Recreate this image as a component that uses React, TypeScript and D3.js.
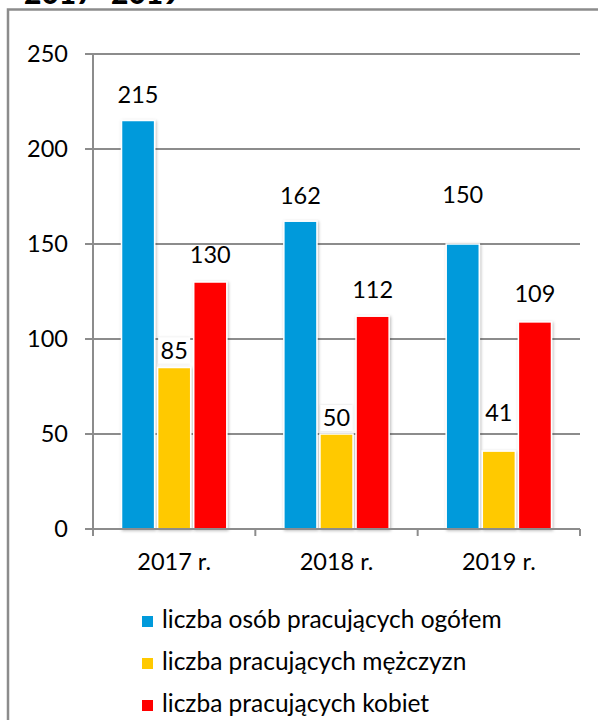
import React from "react";
import * as d3 from "d3";

const categories = ["2017 r.", "2018 r.", "2019 r."];
const seriesNames = [
  "liczba osób pracujących ogółem",
  "liczba pracujących mężczyzn",
  "liczba pracujących kobiet",
];
const totalValues = [215, 162, 150];
const menValues = [85, 50, 41];
const womenValues = [130, 112, 109];
const yTicks = [0, 50, 100, 150, 200, 250];
const titleText = "2017–2019";

// label gaps (px between bar top and label baseline), styling only
const labelGaps = [
  [18, 17, 41],
  [9, 8, 30],
  [19, 18, 20],
];

const colors = ["#009ADB", "#FFC900", "#FF0000"];
const FONT = "Lato, 'Open Sans', sans-serif";
const GRAY = "#8c8c8c";

export default function App() {
  const W = 598;
  const H = 720;
  const left = 93;
  const right = 580;
  const top = 54;
  const bottom = 529;

  const series = [totalValues, menValues, womenValues];

  const x = d3.scaleBand<string>().domain(categories).range([left, right]).padding(0);
  const xi = d3
    .scaleBand<number>()
    .domain([0, 1, 2])
    .range([0, x.bandwidth()])
    .paddingInner(0.0833)
    .paddingOuter(0.79);
  const y = d3.scaleLinear().domain([0, 250]).range([bottom, top]);

  const catEdges = categories.map((c) => x(c) as number).concat([right]);

  return (
    <svg
      width={W}
      height={H}
      style={{ position: "absolute", left: 0, top: 0, background: "#fff" }}
      fontFamily={FONT}
    >
      <defs>
        <filter id="sh" x="-30%" y="-10%" width="160%" height="120%">
          <feDropShadow dx="1" dy="1" stdDeviation="1.8" floodColor="#000" floodOpacity="0.28" />
        </filter>
        <filter id="lsh" x="-30%" y="-30%" width="160%" height="160%">
          <feDropShadow dx="0" dy="0" stdDeviation="1.2" floodColor="#000" floodOpacity="0.15" />
        </filter>
      </defs>
      <rect x={0} y={0} width={W} height={H} fill="#fff" />
      {/* title (cut off at top, as in the reference) */}
      <text x={24} y={3.5} fontSize={30} fontWeight={900} fill="#000">
        {titleText}
      </text>
      {/* frame */}
      <path d={`M8,${H + 5} L8,9.5 L${W + 5},9.5`} fill="none" stroke={GRAY} strokeWidth={2.5} />

      {/* gridlines */}
      {yTicks.map((t) => (
        <g key={t}>
          <line x1={85} x2={right} y1={y(t)} y2={y(t)} stroke={GRAY} strokeWidth={2} />
          <text
            x={68}
            y={y(t)}
            dy="0.36em"
            textAnchor="end"
            fontSize={23.5}
            fill="#000"
          >
            {t}
          </text>
        </g>
      ))}
      {/* y axis */}
      <line x1={left} x2={left} y1={top} y2={bottom + 6} stroke={GRAY} strokeWidth={2} />
      {/* x ticks */}
      {catEdges.map((e, i) => (
        <line key={i} x1={e} x2={e} y1={bottom} y2={bottom + 7} stroke={GRAY} strokeWidth={2} />
      ))}

      {/* bars */}
      {categories.map((c, ci) =>
        series.map((vals, si) => {
          const bx = (x(c) as number) + (xi(si) as number);
          const bw = xi.bandwidth();
          const by = y(vals[ci]);
          return (
            <rect
              key={`${ci}-${si}`}
              x={bx}
              y={by}
              width={bw}
              height={bottom - by}
              fill={colors[si]}
              stroke="#fff"
              strokeWidth={1.5}
              filter="url(#sh)"
            />
          );
        })
      )}
      {/* x axis line drawn over bars */}
      <line x1={left} x2={right} y1={bottom} y2={bottom} stroke={GRAY} strokeWidth={2} />

      {/* value labels */}
      {categories.map((c, ci) =>
        series.map((vals, si) => {
          const cx = (x(c) as number) + (xi(si) as number) + xi.bandwidth() / 2;
          const baseline = y(vals[ci]) - labelGaps[si][ci];
          const needsBox = si === 1 && ci < 2;
          return (
            <g key={`l${ci}-${si}`}>
              {needsBox && (
                <rect
                  x={cx - 16}
                  y={baseline - 21}
                  width={32}
                  height={26}
                  fill="#fff"
                  filter="url(#lsh)"
                />
              )}
              <text x={cx} y={baseline} textAnchor="middle" fontSize={23.5} fill="#000">
                {vals[ci]}
              </text>
            </g>
          );
        })
      )}

      {/* category labels */}
      {categories.map((c) => (
        <text
          key={c}
          x={(x(c) as number) + x.bandwidth() / 2}
          y={570}
          textAnchor="middle"
          fontSize={23.5}
          fill="#000"
        >
          {c}
        </text>
      ))}

      {/* legend */}
      {seriesNames.map((n, i) => (
        <g key={n} transform={`translate(142, ${616 + i * 42})`}>
          <rect x={0} y={0} width={11} height={11} fill={colors[i]} />
          <text x={20} y={11.5} fontSize={24.5} fill="#000">
            {n}
          </text>
        </g>
      ))}
    </svg>
  );
}
